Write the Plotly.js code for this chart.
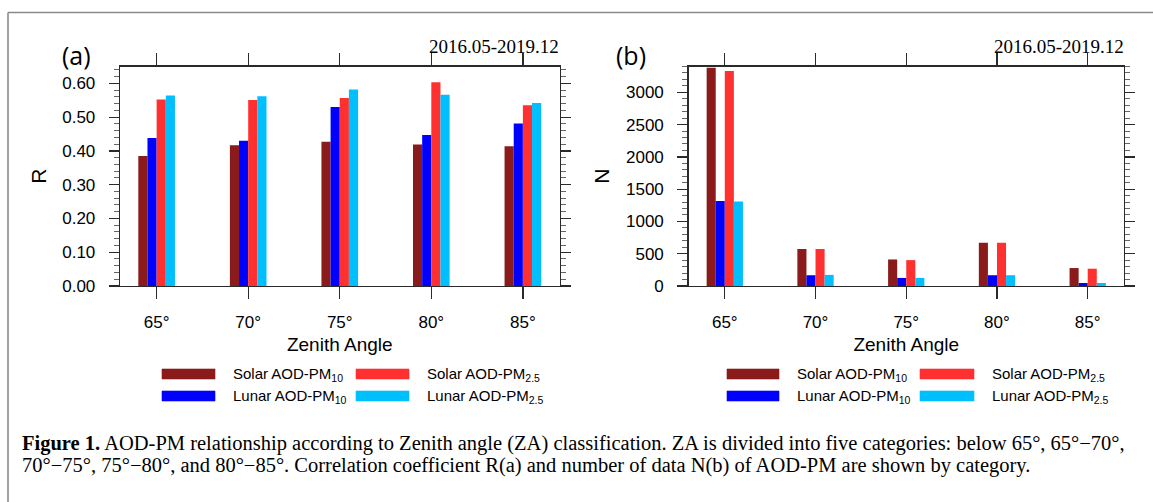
<!DOCTYPE html>
<html>
<head>
<meta charset="utf-8">
<script src="https://cdn.plot.ly/plotly-3.0.1.min.js"></script>
<style>
  html, body { margin: 0; padding: 0; background: #ffffff; }
  #fig { width: 1153px; height: 502px; }
</style>
</head>
<body>
<div id="fig"></div>
<script>
// Zenith angle classes (x categories)
const zenithAngles = ['65°', '70°', '75°', '80°', '85°'];

// Series, in bar order within each group
const seriesNames = [
  'Solar AOD-PM<sub>10</sub>',
  'Lunar AOD-PM<sub>10</sub>',
  'Solar AOD-PM<sub>2.5</sub>',
  'Lunar AOD-PM<sub>2.5</sub>'
];
const seriesColors = ['#8b1a1a', '#0000ff', '#ff3030', '#00bfff'];

// (a) correlation coefficient R
const rSolarPM10 = [0.385, 0.417, 0.427, 0.419, 0.414];
const rLunarPM10 = [0.438, 0.430, 0.530, 0.447, 0.481];
const rSolarPM25 = [0.552, 0.551, 0.557, 0.603, 0.535];
const rLunarPM25 = [0.564, 0.562, 0.582, 0.566, 0.542];

// (b) number of data N
const nSolarPM10 = [3380, 572, 411, 670, 278];
const nLunarPM10 = [1316, 167, 125, 167, 47];
const nSolarPM25 = [3332, 572, 401, 670, 268];
const nLunarPM25 = [1310, 172, 125, 167, 47];

const periodLabel = '2016.05-2019.12';
const panelLabels = ['(a)', '(b)'];
const captionLine1 = '<b>Figure 1.</b> AOD-PM relationship according to Zenith angle (ZA) classification. ZA is divided into five categories: below 65°, 65°\u221270°,';
const captionLine2 = '70°\u221275°, 75°\u221280°, and 80°\u221285°. Correlation coefficient R(a) and number of data N(b) of AOD-PM are shown by category.';

const W = 1153, H = 502;
const px = v => v / W;          // pixel x -> paper
const py = v => 1 - v / H;      // pixel y (from top) -> paper

const SANS = 'Liberation Sans, Arial, Helvetica, sans-serif';
const SERIF = 'Liberation Serif, Times New Roman, serif';
const AX = '#2a2a2a';
const TXT = '#000000';

const rSeries = [rSolarPM10, rLunarPM10, rSolarPM25, rLunarPM25];
const nSeries = [nSolarPM10, nLunarPM10, nSolarPM25, nLunarPM25];

const traces = [];
rSeries.forEach((vals, i) => traces.push({
  type: 'bar', x: zenithAngles, y: vals, name: seriesNames[i],
  marker: { color: seriesColors[i], line: { width: 0 } },
  xaxis: 'x', yaxis: 'y', showlegend: false
}));
nSeries.forEach((vals, i) => traces.push({
  type: 'bar', x: zenithAngles, y: vals, name: seriesNames[i],
  marker: { color: seriesColors[i], line: { width: 0 } },
  xaxis: 'x2', yaxis: 'y2', showlegend: false
}));

function xAxis(domain, anchor) {
  return {
    domain: domain, anchor: anchor, type: 'category', range: [-0.4, 4.4],
    showline: true, linecolor: AX, linewidth: 1.3, mirror: 'ticks',
    ticks: 'outside', ticklen: 12, tickwidth: 1.3, tickcolor: AX,
    showgrid: false, zeroline: false, ticklabelstandoff: 8,
    tickfont: { family: SANS, size: 17, color: TXT },
    title: { text: 'Zenith Angle', standoff: 7, font: { family: SANS, size: 19, color: TXT } },
    fixedrange: true
  };
}
function yAxis(domain, anchor, range, dtick, minorDtick, fmt, title) {
  return {
    domain: domain, anchor: anchor, range: range, tick0: 0, dtick: dtick,
    tickformat: fmt, showline: true, linecolor: AX, linewidth: 1.3, mirror: 'ticks',
    ticks: 'outside', ticklen: 10, tickwidth: 1.3, tickcolor: AX,
    minor: { dtick: minorDtick, tick0: 0, ticks: 'outside', ticklen: 5, tickwidth: 1, tickcolor: '#666', showgrid: false },
    showgrid: false, zeroline: false, ticklabelstandoff: 10,
    tickfont: { family: SANS, size: 17, color: TXT },
    title: { text: title, standoff: 10, font: { family: SANS, size: 21, color: TXT } },
    fixedrange: true
  };
}

const yDom = [py(286), py(66.5)];

const shapes = [];
const annotations = [];

// figure box (top and left edges)
shapes.push({ type: 'line', xref: 'paper', yref: 'paper', x0: px(8), x1: px(1160), y0: py(12.5), y1: py(12.5), line: { color: '#8a8a8a', width: 1.6 } });
shapes.push({ type: 'line', xref: 'paper', yref: 'paper', x0: px(8), x1: px(8), y0: py(12.5), y1: py(520), line: { color: '#8a8a8a', width: 1.6 } });

// panel labels and period text
const panelLabelX = [76, 631];
const periodRight = [559, 1124];
[0, 1].forEach(k => {
  annotations.push({ xref: 'paper', yref: 'paper', x: px(panelLabelX[k]), y: py(55), xanchor: 'center', yanchor: 'middle',
    text: panelLabels[k], showarrow: false, font: { family: 'Open Sans, DejaVu Sans, sans-serif', size: 25, color: TXT } });
  annotations.push({ xref: 'paper', yref: 'paper', x: px(periodRight[k] + 2), y: py(59), xanchor: 'right', yanchor: 'bottom',
    text: periodLabel, showarrow: false, font: { family: SERIF, size: 19, color: TXT } });
});

// legends: two rows, Solar on top, Lunar below
const legendOrder = [[0, 2], [1, 3]];
const legendCols = [[[162, 215, 231], [356, 409, 425]], [[727, 779, 795], [920, 974, 990]]];
const legendRows = [374, 396];
legendCols.forEach(cols => {
  legendOrder.forEach((row, r) => {
    row.forEach((si, c) => {
      const [s0, s1, tx] = cols[c];
      const yc = legendRows[r];
      shapes.push({ type: 'rect', xref: 'paper', yref: 'paper', x0: px(s0), x1: px(s1), y0: py(yc + 5), y1: py(yc - 5),
        fillcolor: seriesColors[si], line: { width: 0.6, color: seriesColors[si] } });
      annotations.push({ xref: 'paper', yref: 'paper', x: px(tx), y: py(yc), xanchor: 'left', yanchor: 'middle',
        text: seriesNames[si], showarrow: false, font: { family: SANS, size: 15, color: TXT } });
    });
  });
});

// caption
annotations.push({ xref: 'paper', yref: 'paper', x: px(20), y: py(443), xanchor: 'left', yanchor: 'middle',
  text: captionLine1, showarrow: false, font: { family: SERIF, size: 20.5, color: TXT } });
annotations.push({ xref: 'paper', yref: 'paper', x: px(20), y: py(465), xanchor: 'left', yanchor: 'middle',
  text: captionLine2, showarrow: false, font: { family: SERIF, size: 20.5, color: TXT } });

const layout = {
  width: W, height: H,
  margin: { l: 0, r: 0, t: 0, b: 0 },
  paper_bgcolor: '#ffffff', plot_bgcolor: '#ffffff',
  barmode: 'group', bargap: 0.6, bargroupgap: 0,
  showlegend: false,
  xaxis: xAxis([px(120), px(559.5)], 'y'),
  yaxis: yAxis(yDom, 'x', [0, 0.65], 0.1, 0.02, '.2f', 'R'),
  xaxis2: xAxis([px(688.5), px(1124)], 'y2'),
  yaxis2: yAxis(yDom, 'x2', [0, 3400], 500, 100, 'd', 'N'),
  shapes: shapes,
  annotations: annotations
};

Plotly.newPlot('fig', traces, layout, { staticPlot: true, displayModeBar: false });
</script>
</body>
</html>
